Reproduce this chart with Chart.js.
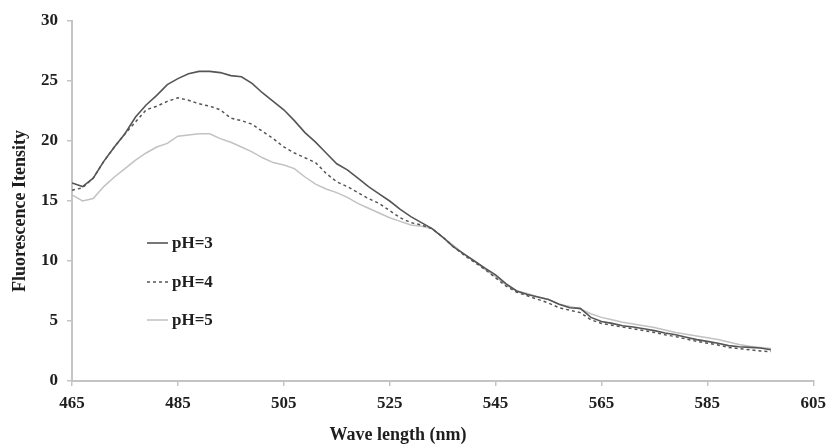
<!DOCTYPE html>
<html>
<head>
<meta charset="utf-8">
<script src="https://cdn.jsdelivr.net/npm/chart.js@4"></script>
<style>
  html, body { margin: 0; padding: 0; background: #fff; }
  #wrap { width: 833px; height: 444px; }
</style>
</head>
<body>
<div id="wrap"><canvas id="fluoChart"></canvas></div>
<script>
// Wavelengths (nm), sampled every 2 nm
const wavelengths = [
  465, 467, 469, 471, 473, 475, 477, 479, 481, 483, 485, 487, 489, 491, 493, 495, 497, 499,
  501, 503, 505, 507, 509, 511, 513, 515, 517, 519, 521, 523, 525, 527, 529, 531, 533, 535,
  537, 539, 541, 543, 545, 547, 549, 551, 553, 555, 557, 559, 561, 563, 565, 567, 569, 571,
  573, 575, 577, 579, 581, 583, 585, 587, 589, 591, 593, 595, 597
];

const ph3 = [
  16.5, 16.2, 16.9, 18.3, 19.5, 20.6, 22.0, 23.0, 23.8, 24.7, 25.2, 25.6, 25.8, 25.8, 25.7, 25.45, 25.35, 24.8,
  24.0, 23.3, 22.6, 21.7, 20.7, 19.9, 19.0, 18.1, 17.6, 16.9, 16.2, 15.6, 15.0, 14.3, 13.7, 13.2, 12.7, 12.0,
  11.2, 10.6, 10.0, 9.4, 8.85, 8.1, 7.5, 7.2, 7.0, 6.8, 6.4, 6.1, 6.05, 5.3, 4.95, 4.8, 4.6, 4.5,
  4.35, 4.2, 4.0, 3.85, 3.65, 3.45, 3.3, 3.15, 2.95, 2.85, 2.8, 2.75, 2.6
];

const ph4 = [
  15.9, 16.1, 16.9, 18.3, 19.5, 20.6, 21.6, 22.6, 22.9, 23.3, 23.6, 23.4, 23.1, 22.9, 22.6, 21.9, 21.7, 21.4,
  20.8, 20.2, 19.5, 19.0, 18.6, 18.2, 17.3, 16.6, 16.2, 15.7, 15.2, 14.8, 14.2, 13.6, 13.2, 13.0, 12.7, 12.0,
  11.2, 10.5, 9.9, 9.3, 8.6, 7.9, 7.4, 7.1, 6.8, 6.5, 6.1, 5.9, 5.7, 5.1, 4.8, 4.65, 4.5, 4.35,
  4.2, 4.05, 3.85, 3.7, 3.5, 3.3, 3.15, 3.0, 2.8, 2.7, 2.6, 2.5, 2.45
];

const ph5 = [
  15.5, 15.0, 15.2, 16.2, 17.0, 17.7, 18.4, 19.0, 19.5, 19.8, 20.4, 20.5, 20.6, 20.6, 20.2, 19.9, 19.5, 19.1,
  18.6, 18.2, 18.0, 17.7, 17.0, 16.4, 16.0, 15.7, 15.3, 14.8, 14.4, 14.0, 13.6, 13.3, 13.0, 12.9, 12.7, 12.0,
  11.3, 10.6, 10.0, 9.3, 8.7, 8.0, 7.5, 7.3, 7.0, 6.8, 6.4, 6.2, 6.0, 5.6, 5.3, 5.1, 4.9, 4.75,
  4.6, 4.45, 4.25, 4.05, 3.9, 3.75, 3.6, 3.45, 3.25, 3.05, 2.9, 2.8, 2.7
];

const xTicks = [465, 485, 505, 525, 545, 565, 585, 605];
const yTicks = [0, 5, 10, 15, 20, 25, 30];

const serif = "'Liberation Serif', 'Times New Roman', serif";
const axisGray = '#c4c4c4';
const textColor = '#1e1e1e';

function toPoints(ys) {
  return wavelengths.map((x, i) => ({ x: x, y: ys[i] }));
}

// Legend drawn inside the plot, on the left
const insideLegend = {
  id: 'insideLegend',
  afterDatasetsDraw(chart) {
    const ctx = chart.ctx;
    const x0 = 147, x1 = 168;
    const rows = [243, 282, 320];
    ctx.save();
    ctx.font = 'bold 17px ' + serif;
    ctx.textBaseline = 'middle';
    chart.data.datasets.forEach((ds, i) => {
      const y = rows[i];
      ctx.strokeStyle = ds.borderColor;
      ctx.lineWidth = ds.borderWidth;
      ctx.setLineDash(ds.borderDash || []);
      ctx.beginPath();
      ctx.moveTo(x0, y);
      ctx.lineTo(x1, y);
      ctx.stroke();
      ctx.setLineDash([]);
      ctx.fillStyle = textColor;
      ctx.fillText(ds.label, 172, y + 1);
    });
    ctx.restore();
  }
};

// Axis titles, placed where the original has them
const axisTitles = {
  id: 'axisTitles',
  afterDraw(chart) {
    const ctx = chart.ctx;
    ctx.save();
    ctx.font = 'bold 18px ' + serif;
    ctx.fillStyle = textColor;
    ctx.textAlign = 'center';
    ctx.textBaseline = 'middle';
    ctx.fillText('Wave length (nm)', 398, 435);
    ctx.translate(20, 211);
    ctx.rotate(-Math.PI / 2);
    ctx.fillText('Fluorescence Itensity', 0, 0);
    ctx.restore();
  }
};

const ctx = document.getElementById('fluoChart').getContext('2d');
new Chart(ctx, {
  type: 'line',
  data: {
    datasets: [
      {
        label: 'pH=3',
        data: toPoints(ph3),
        borderColor: '#555555',
        borderWidth: 1.6,
        pointRadius: 0,
        tension: 0
      },
      {
        label: 'pH=4',
        data: toPoints(ph4),
        borderColor: '#555555',
        borderWidth: 1.5,
        borderDash: [3, 3],
        pointRadius: 0,
        tension: 0
      },
      {
        label: 'pH=5',
        data: toPoints(ph5),
        borderColor: '#c2c2c2',
        borderWidth: 1.5,
        pointRadius: 0,
        tension: 0
      }
    ]
  },
  options: {
    responsive: true,
    maintainAspectRatio: false,
    animation: false,
    layout: { padding: { left: 0, right: 14, top: 21, bottom: 0 } },
    plugins: {
      legend: { display: false },
      tooltip: { enabled: false }
    },
    scales: {
      x: {
        type: 'linear',
        min: 465,
        max: 605,
        afterBuildTicks: (scale) => { scale.ticks = xTicks.map(v => ({ value: v })); },
        afterFit: (scale) => { scale.height = 63; },
        border: { color: axisGray, width: 2 },
        grid: { drawOnChartArea: false, drawTicks: true, tickLength: 5, color: axisGray, lineWidth: 1.5 },
        ticks: {
          color: textColor,
          padding: 7,
          maxRotation: 0,
          font: { family: serif, size: 17, weight: 'bold' }
        }
      },
      y: {
        min: 0,
        max: 30,
        afterBuildTicks: (scale) => { scale.ticks = yTicks.map(v => ({ value: v })); },
        afterFit: (scale) => { scale.width = 72; },
        border: { color: axisGray, width: 2 },
        grid: { drawOnChartArea: false, drawTicks: true, tickLength: 5, color: axisGray, lineWidth: 1.5 },
        ticks: {
          color: textColor,
          padding: 9,
          font: { family: serif, size: 17, weight: 'bold' }
        }
      }
    }
  },
  plugins: [insideLegend, axisTitles]
});
</script>
</body>
</html>
